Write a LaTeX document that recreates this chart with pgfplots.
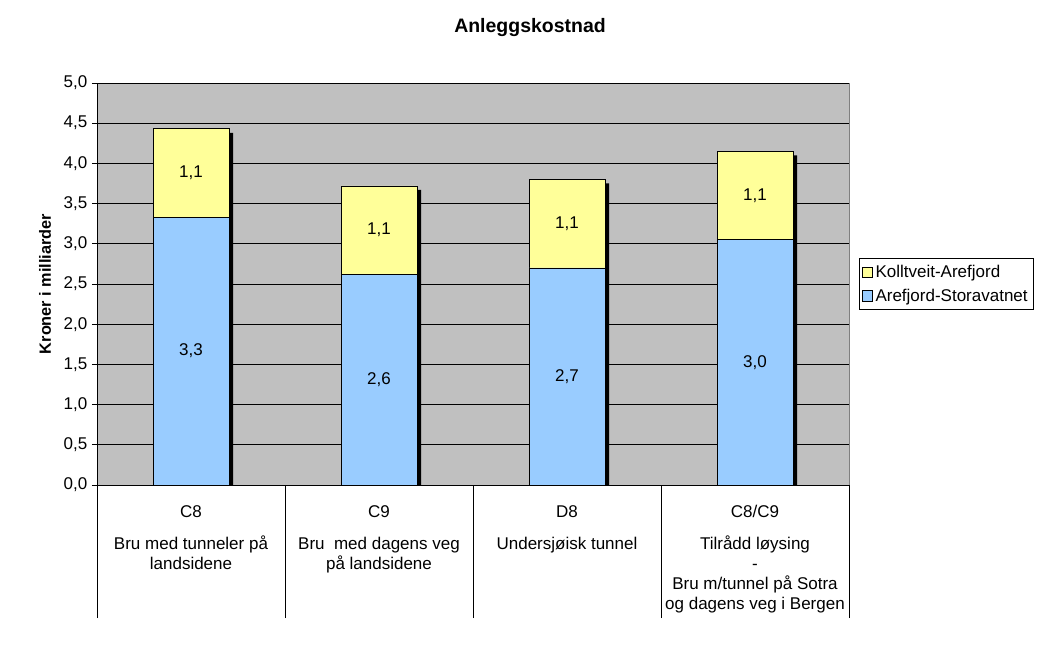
\documentclass[border=0pt]{standalone}
\usepackage{pgfplots}
\pgfplotsset{compat=1.18}
\usepackage{fontspec}
\setmainfont{Liberation Sans}
\definecolor{barblue}{HTML}{99CCFF}
\definecolor{baryellow}{HTML}{FFFF99}
\definecolor{plotbg}{HTML}{C0C0C0}
\definecolor{bordergray}{HTML}{808080}
\begin{document}
\begin{tikzpicture}
\useasboundingbox (0pt,0pt) rectangle (792.75pt,483.75pt);
\node[font=\bfseries\fontsize{14.6}{17}\selectfont] at (397.5pt,462.75pt) {Anleggskostnad};
\begin{axis}[
  at={(72.75pt,120pt)}, anchor=south west,
  scale only axis, width=564pt, height=301.5pt,
  xmin=-0.5, xmax=3.5, ymin=0, ymax=5,
  axis background/.style={fill=plotbg, draw=bordergray},
  axis x line*=bottom, axis y line*=left,
  axis line style={black, line width=0.6pt},
  ytick={0,0.5,...,5},
  yticklabel style={/pgf/number format/.cd, use comma, fixed, fixed zerofill, precision=1, assume math mode=true},
  ymajorgrids, grid style={black, line width=0.6pt},
  tick align=outside, major tick length=3.75pt,
  ytick style={black, line width=0.6pt},
  xtick={0,1,2,3},
  xticklabels={
    {C8\\[9pt]Bru med tunneler på\\landsidene},
    {C9\\[9pt]Bru\ \ med dagens veg\\på landsidene},
    {D8\\[9pt]Undersjøisk tunnel},
    {C8/C9\\[9pt]Tilrådd løysing\\-\\Bru m/tunnel på Sotra\\og dagens veg i Bergen}},
  xticklabel style={align=center, anchor=north, yshift=-8pt, font=\fontsize{12.75}{15}\selectfont},
  xtick style={draw=none},
  extra x ticks={-0.5,0.5,1.5,2.5,3.5},
  extra x tick labels={},
  extra x tick style={major tick length=99.75pt, xtick style={draw=black, line width=0.6pt}},
  tick label style={font=\fontsize{12.75}{15}\selectfont},
  ylabel={Kroner i milliarder},
  ylabel style={at={(axis description cs:-0.0691,0.5)}, anchor=center, font=\bfseries\fontsize{12.2}{14}\selectfont},
  legend style={at={(1,0.5647)}, xshift=7.5pt, anchor=north west, draw=black, line width=0.6pt, fill=white,
    font=\fontsize{12.75}{15}\selectfont, row sep=3pt, inner xsep=2pt, inner ysep=3pt},
  legend cell align=left,
  legend image code/.code={\draw[#1, draw=black, line width=0.5pt] (0pt,-3.8pt) rectangle (7.6pt,3.8pt);},
]
% shadows
\addplot[ybar, bar width=57pt, bar shift=3pt, fill=black, draw=none, forget plot]
  coordinates {(0,4.38) (1,3.67) (2,3.75) (3,4.10)};
% totals (yellow: Kolltveit-Arefjord on top)
\addplot[ybar, bar width=57pt, bar shift=0pt, fill=baryellow, draw=black, line width=0.6pt]
  coordinates {(0,4.43) (1,3.72) (2,3.80) (3,4.15)};
\addlegendentry{Kolltveit-Arefjord}
% lower (blue: Arefjord-Storavatnet)
\addplot[ybar, bar width=57pt, bar shift=0pt, fill=barblue, draw=black, line width=0.6pt]
  coordinates {(0,3.33) (1,2.62) (2,2.70) (3,3.05)};
\addlegendentry{Arefjord-Storavatnet}
% value labels
\addplot[draw=none, mark=none, forget plot, nodes near coords, point meta=explicit symbolic,
  every node near coord/.append style={anchor=center, font=\fontsize{12.75}{15}\selectfont}]
  table[meta=lab]{
x y lab
0 3.88 1,1
1 3.17 1,1
2 3.25 1,1
3 3.60 1,1
0 1.665 3,3
1 1.31 2,6
2 1.35 2,7
3 1.525 3,0
};
\end{axis}
\end{tikzpicture}
\end{document}
